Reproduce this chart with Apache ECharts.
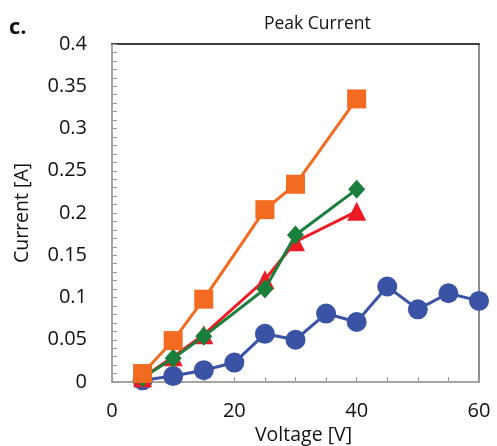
<!DOCTYPE html>
<html><head><meta charset="utf-8">
<script src="https://cdn.jsdelivr.net/npm/echarts@6/dist/echarts.min.js"></script>
<style>html,body{margin:0;padding:0;background:#fff}#c{width:497px;height:446px}</style>
</head><body><div id="c"></div>
<script>
const title = 'Peak Current';
const panelLabel = 'c.';
const xName = 'Voltage [V]';
const yName = 'Current [A]';
const blueX = [5,10,15,20,25,30,35,40,45,50,55,60];
const blueY = [0.002,0.007,0.014,0.023,0.057,0.050,0.081,0.071,0.113,0.086,0.105,0.096];
const redX = [5,10,15,25,30,40];
const redY = [0.005,0.030,0.056,0.121,0.166,0.202];
const greenX = [5,10,15,25,30,40];
const greenY = [0.005,0.028,0.054,0.110,0.174,0.228];
const orangeX = [5,10,15,25,30,40];
const orangeY = [0.010,0.049,0.098,0.204,0.234,0.335];

const font = 'Open Sans';
function pairs(xs, ys){ return xs.map((x,i)=>[x, ys[i]]); }
const chart = echarts.init(document.getElementById('c'));
chart.setOption({
  animation:false,
  textStyle:{fontFamily:font},
  graphic:[
    {type:'text', left:9, top:17, style:{text:panelLabel, font:'bold 22px "Open Sans"', fill:'#111'}},
    {type:'text', left:264, top:15, style:{text:title, font:'17.5px "Open Sans"', fill:'#111'}}
  ],
  grid:{left:112, right:18, top:44, bottom:64, containLabel:false, outerBoundsMode:'none'},
  xAxis:[{
    type:'value', min:0, max:60, interval:20,
    name:xName, nameLocation:'middle', nameGap:40,
    nameTextStyle:{fontSize:19.5, color:'#111', fontFamily:font, padding:[0,0,0,16]},
    axisLine:{lineStyle:{color:'#888', width:1.5}},
    axisTick:{show:true, inside:true, length:5, lineStyle:{color:'#999'}},
    minorTick:{show:true, splitNumber:4, length:5, lineStyle:{color:'#999'}},
    axisLabel:{fontSize:20, color:'#111', margin:19, fontFamily:font},
    splitLine:{show:false}, minorSplitLine:{show:false}
  },{
    type:'value', min:0, max:60, position:'top',
    axisLine:{show:true, onZero:false, lineStyle:{color:'#000', width:1.5}},
    axisTick:{show:false}, axisLabel:{show:false}, splitLine:{show:false}
  }],
  yAxis:[{
    type:'value', min:0, max:0.4, interval:0.05,
    name:yName, nameLocation:'middle', nameGap:80,
    nameTextStyle:{fontSize:19.5, color:'#111', fontFamily:font},
    axisLine:{show:true, lineStyle:{color:'#888', width:1.5}},
    axisTick:{show:true, inside:true, length:5, lineStyle:{color:'#999'}},
    minorTick:{show:true, splitNumber:5, length:5, lineStyle:{color:'#999'}},
    axisLabel:{fontSize:20, color:'#111', margin:25, fontFamily:font,
      formatter:v=>String(parseFloat(v.toFixed(2)))},
    splitLine:{show:false}, minorSplitLine:{show:false}
  },{
    type:'value', min:0, max:0.4, position:'right',
    axisLine:{show:true, onZero:false, lineStyle:{color:'#666', width:1.5}},
    axisTick:{show:false}, axisLabel:{show:false}, splitLine:{show:false}
  }],
  series:[
    {type:'line', data:pairs(blueX,blueY), symbol:'circle', symbolSize:20,
     itemStyle:{color:'#3a53a4'}, lineStyle:{color:'#3a53a4', width:3}, z:2},
    {type:'line', data:pairs(redX,redY), symbol:'triangle', symbolSize:19,
     itemStyle:{color:'#ed1c24'}, lineStyle:{color:'#ed1c24', width:3}, z:3},
    {type:'line', data:pairs(greenX,greenY), symbol:'diamond', symbolSize:[17,19],
     itemStyle:{color:'#1a7f3c'}, lineStyle:{color:'#1a7f3c', width:3}, z:4},
    {type:'line', data:pairs(orangeX,orangeY), symbol:'rect', symbolSize:19,
     itemStyle:{color:'#f26b21'}, lineStyle:{color:'#f26b21', width:3}, z:5}
  ]
});
</script></body></html>
